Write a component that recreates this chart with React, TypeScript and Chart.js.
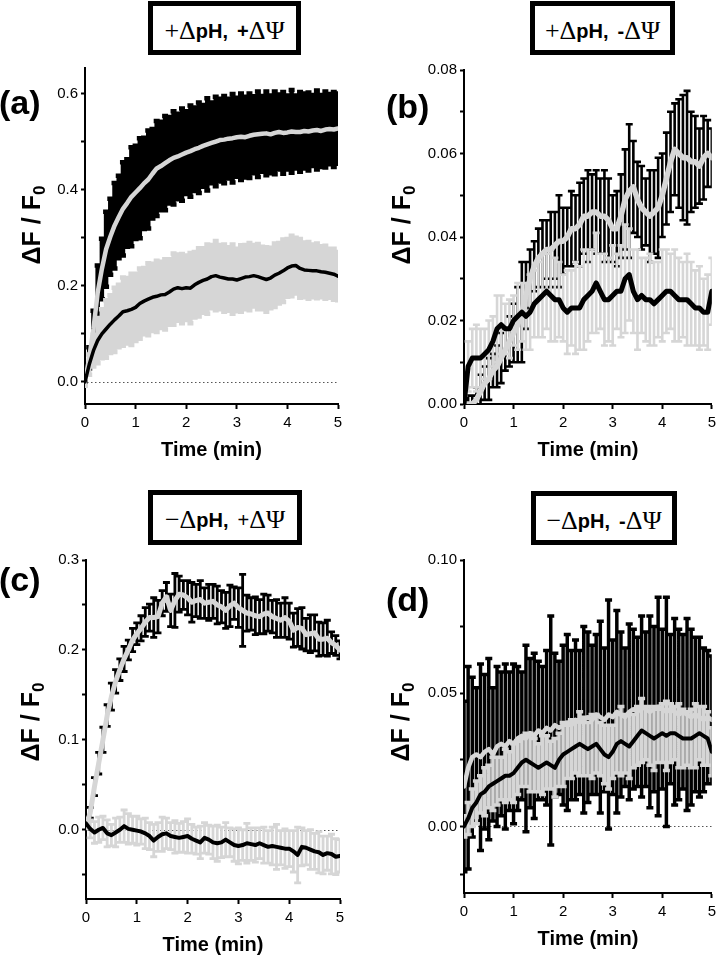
import React, { useEffect, useRef } from 'react';
import { Chart, registerables } from 'chart.js';

Chart.register(...registerables);

// ---------- data (time in seconds, values ΔF/F0) ----------
const TIME_S = [0, 5, 10, 15, 20, 25, 30, 35, 40, 45, 50, 55, 60, 65, 70, 75, 80, 85, 90, 95, 100, 105, 110, 115, 120, 125, 130, 135, 140, 145, 150, 155, 160, 165, 170, 175, 180, 185, 190, 195, 200, 205, 210, 215, 220, 225, 230, 235, 240, 245, 250, 255, 260, 265, 270, 275, 280, 285, 290, 295, 300];

// (a) +ΔpH, +ΔΨ
const A1_MEAN = [0.000, 0.050, 0.110, 0.185, 0.235, 0.276, 0.302, 0.325, 0.343, 0.360, 0.372, 0.385, 0.394, 0.403, 0.413, 0.421, 0.433, 0.444, 0.449, 0.455, 0.461, 0.466, 0.469, 0.473, 0.477, 0.480, 0.484, 0.487, 0.491, 0.494, 0.497, 0.500, 0.503, 0.504, 0.506, 0.507, 0.509, 0.510, 0.509, 0.512, 0.514, 0.515, 0.516, 0.517, 0.515, 0.518, 0.520, 0.518, 0.519, 0.521, 0.520, 0.520, 0.522, 0.521, 0.523, 0.524, 0.522, 0.525, 0.526, 0.525, 0.527];
const A1_ERR = [0.005, 0.022, 0.038, 0.057, 0.063, 0.078, 0.079, 0.089, 0.086, 0.097, 0.091, 0.103, 0.097, 0.104, 0.095, 0.102, 0.093, 0.099, 0.092, 0.098, 0.090, 0.097, 0.089, 0.096, 0.086, 0.095, 0.087, 0.094, 0.085, 0.096, 0.084, 0.093, 0.086, 0.091, 0.083, 0.092, 0.082, 0.090, 0.084, 0.088, 0.080, 0.089, 0.079, 0.087, 0.081, 0.086, 0.078, 0.085, 0.077, 0.086, 0.076, 0.083, 0.078, 0.081, 0.074, 0.082, 0.075, 0.079, 0.073, 0.078, 0.073];
const A2_MEAN = [0.000, 0.036, 0.065, 0.086, 0.100, 0.110, 0.120, 0.129, 0.137, 0.146, 0.148, 0.151, 0.155, 0.163, 0.168, 0.172, 0.176, 0.178, 0.181, 0.182, 0.187, 0.193, 0.196, 0.194, 0.196, 0.195, 0.202, 0.207, 0.211, 0.214, 0.219, 0.221, 0.218, 0.216, 0.214, 0.214, 0.212, 0.215, 0.218, 0.219, 0.221, 0.219, 0.216, 0.213, 0.216, 0.222, 0.226, 0.231, 0.237, 0.241, 0.242, 0.236, 0.233, 0.232, 0.231, 0.231, 0.229, 0.228, 0.226, 0.224, 0.220];
const A2_ERR = [0.008, 0.021, 0.033, 0.047, 0.051, 0.060, 0.060, 0.067, 0.065, 0.071, 0.068, 0.074, 0.070, 0.073, 0.069, 0.075, 0.070, 0.074, 0.069, 0.073, 0.068, 0.074, 0.069, 0.072, 0.067, 0.073, 0.068, 0.071, 0.067, 0.072, 0.066, 0.072, 0.067, 0.070, 0.066, 0.072, 0.065, 0.069, 0.067, 0.070, 0.064, 0.068, 0.065, 0.067, 0.063, 0.066, 0.063, 0.065, 0.060, 0.063, 0.058, 0.061, 0.057, 0.059, 0.055, 0.057, 0.053, 0.055, 0.051, 0.053, 0.050];

// (b) +ΔpH, -ΔΨ
const B1_MEAN = [0.000, 0.000, 0.000, 0.001, 0.003, 0.005, 0.006, 0.008, 0.009, 0.011, 0.013, 0.015, 0.017, 0.019, 0.022, 0.026, 0.030, 0.033, 0.035, 0.036, 0.037, 0.037, 0.038, 0.039, 0.039, 0.040, 0.042, 0.042, 0.043, 0.045, 0.045, 0.046, 0.046, 0.045, 0.045, 0.044, 0.042, 0.042, 0.045, 0.049, 0.051, 0.052, 0.049, 0.047, 0.046, 0.045, 0.046, 0.047, 0.050, 0.054, 0.058, 0.061, 0.060, 0.059, 0.059, 0.058, 0.058, 0.057, 0.059, 0.060, 0.059];
const B1_ERR = [0.001, 0.002, 0.002, 0.003, 0.004, 0.004, 0.005, 0.004, 0.005, 0.006, 0.005, 0.006, 0.007, 0.009, 0.012, 0.008, 0.007, 0.006, 0.007, 0.008, 0.007, 0.009, 0.008, 0.011, 0.008, 0.007, 0.009, 0.008, 0.010, 0.009, 0.011, 0.009, 0.010, 0.009, 0.011, 0.010, 0.008, 0.009, 0.010, 0.012, 0.016, 0.011, 0.009, 0.010, 0.008, 0.011, 0.010, 0.012, 0.010, 0.011, 0.012, 0.011, 0.013, 0.015, 0.016, 0.012, 0.011, 0.009, 0.010, 0.008, 0.007];
const B2_MEAN = [0.000, 0.009, 0.011, 0.011, 0.011, 0.012, 0.013, 0.015, 0.018, 0.019, 0.018, 0.018, 0.020, 0.021, 0.022, 0.021, 0.022, 0.024, 0.025, 0.026, 0.027, 0.026, 0.025, 0.025, 0.023, 0.022, 0.023, 0.023, 0.023, 0.025, 0.026, 0.027, 0.029, 0.027, 0.025, 0.025, 0.026, 0.027, 0.027, 0.030, 0.031, 0.027, 0.025, 0.026, 0.025, 0.025, 0.024, 0.025, 0.026, 0.027, 0.027, 0.026, 0.025, 0.025, 0.025, 0.024, 0.023, 0.023, 0.022, 0.022, 0.027];
const B2_ERR = [0.002, 0.006, 0.007, 0.008, 0.007, 0.006, 0.007, 0.006, 0.008, 0.007, 0.006, 0.007, 0.006, 0.008, 0.007, 0.008, 0.009, 0.008, 0.009, 0.010, 0.009, 0.011, 0.010, 0.009, 0.008, 0.010, 0.009, 0.011, 0.010, 0.012, 0.011, 0.010, 0.012, 0.009, 0.011, 0.010, 0.012, 0.009, 0.011, 0.013, 0.011, 0.010, 0.012, 0.009, 0.010, 0.011, 0.010, 0.009, 0.011, 0.010, 0.009, 0.011, 0.010, 0.009, 0.011, 0.010, 0.009, 0.010, 0.008, 0.009, 0.008];

// (c) −ΔpH, +ΔΨ
const C1_MEAN = [0.004, 0.019, 0.048, 0.074, 0.100, 0.127, 0.148, 0.165, 0.178, 0.190, 0.200, 0.211, 0.218, 0.224, 0.231, 0.236, 0.236, 0.237, 0.252, 0.259, 0.244, 0.255, 0.262, 0.261, 0.258, 0.253, 0.255, 0.256, 0.252, 0.253, 0.254, 0.250, 0.248, 0.244, 0.249, 0.252, 0.247, 0.244, 0.241, 0.240, 0.238, 0.237, 0.240, 0.241, 0.237, 0.235, 0.233, 0.236, 0.232, 0.222, 0.225, 0.224, 0.217, 0.218, 0.219, 0.212, 0.212, 0.213, 0.208, 0.205, 0.200];
const C1_ERR = [0.003, 0.006, 0.010, 0.012, 0.014, 0.012, 0.015, 0.013, 0.012, 0.014, 0.011, 0.013, 0.012, 0.014, 0.016, 0.015, 0.022, 0.018, 0.014, 0.016, 0.018, 0.030, 0.020, 0.016, 0.019, 0.022, 0.018, 0.021, 0.017, 0.020, 0.019, 0.021, 0.018, 0.020, 0.023, 0.018, 0.022, 0.040, 0.020, 0.018, 0.021, 0.019, 0.022, 0.020, 0.018, 0.021, 0.019, 0.022, 0.020, 0.019, 0.021, 0.023, 0.018, 0.021, 0.020, 0.019, 0.018, 0.020, 0.012, 0.011, 0.010];
const C2_MEAN = [0.007, 0.001, -0.003, 0.000, 0.002, -0.004, -0.006, -0.003, 0.000, 0.004, 0.001, 0.000, -0.001, -0.002, -0.004, -0.007, -0.012, -0.008, -0.005, -0.004, -0.007, -0.008, -0.009, -0.008, -0.007, -0.010, -0.012, -0.014, -0.009, -0.011, -0.014, -0.015, -0.014, -0.011, -0.014, -0.017, -0.018, -0.017, -0.015, -0.016, -0.017, -0.015, -0.017, -0.019, -0.018, -0.019, -0.020, -0.021, -0.021, -0.024, -0.028, -0.019, -0.020, -0.022, -0.024, -0.025, -0.028, -0.026, -0.027, -0.030, -0.029];
const C2_ERR = [0.006, 0.010, 0.012, 0.014, 0.013, 0.015, 0.012, 0.016, 0.014, 0.018, 0.017, 0.015, 0.016, 0.014, 0.017, 0.015, 0.018, 0.016, 0.019, 0.017, 0.015, 0.018, 0.016, 0.017, 0.019, 0.016, 0.015, 0.018, 0.017, 0.016, 0.018, 0.020, 0.017, 0.019, 0.016, 0.018, 0.020, 0.017, 0.022, 0.018, 0.019, 0.017, 0.020, 0.018, 0.021, 0.025, 0.019, 0.022, 0.020, 0.023, 0.031, 0.021, 0.019, 0.022, 0.020, 0.023, 0.021, 0.019, 0.022, 0.020, 0.018];

// (d) −ΔpH, -ΔΨ
const D1_MEAN = [0.015, 0.022, 0.026, 0.027, 0.026, 0.028, 0.029, 0.027, 0.030, 0.031, 0.030, 0.032, 0.031, 0.033, 0.034, 0.033, 0.035, 0.034, 0.036, 0.035, 0.037, 0.036, 0.038, 0.037, 0.038, 0.039, 0.038, 0.040, 0.039, 0.040, 0.041, 0.040, 0.042, 0.041, 0.040, 0.042, 0.041, 0.043, 0.042, 0.041, 0.043, 0.044, 0.043, 0.045, 0.044, 0.043, 0.044, 0.045, 0.044, 0.043, 0.044, 0.043, 0.042, 0.043, 0.042, 0.041, 0.042, 0.041, 0.040, 0.041, 0.040];
const D1_ERR = [0.032, 0.038, 0.030, 0.025, 0.035, 0.029, 0.034, 0.025, 0.030, 0.027, 0.031, 0.026, 0.030, 0.027, 0.024, 0.035, 0.028, 0.031, 0.026, 0.025, 0.029, 0.043, 0.027, 0.025, 0.030, 0.033, 0.028, 0.030, 0.027, 0.035, 0.032, 0.028, 0.030, 0.036, 0.027, 0.043, 0.029, 0.038, 0.031, 0.026, 0.033, 0.030, 0.028, 0.034, 0.029, 0.036, 0.031, 0.041, 0.030, 0.043, 0.028, 0.035, 0.032, 0.029, 0.036, 0.033, 0.029, 0.030, 0.027, 0.025, 0.024];
const D2_MEAN = [0.000, 0.003, 0.007, 0.009, 0.012, 0.013, 0.015, 0.016, 0.017, 0.018, 0.019, 0.019, 0.020, 0.022, 0.024, 0.025, 0.024, 0.023, 0.022, 0.023, 0.024, 0.023, 0.022, 0.025, 0.027, 0.028, 0.029, 0.030, 0.031, 0.030, 0.029, 0.030, 0.031, 0.029, 0.027, 0.026, 0.028, 0.031, 0.032, 0.031, 0.030, 0.032, 0.034, 0.036, 0.035, 0.034, 0.033, 0.034, 0.035, 0.034, 0.035, 0.035, 0.034, 0.033, 0.033, 0.033, 0.034, 0.035, 0.034, 0.033, 0.028];
const D2_ERR = [0.004, 0.006, 0.007, 0.008, 0.007, 0.009, 0.008, 0.010, 0.009, 0.008, 0.010, 0.009, 0.011, 0.010, 0.009, 0.010, 0.011, 0.010, 0.009, 0.011, 0.010, 0.009, 0.011, 0.010, 0.012, 0.010, 0.011, 0.010, 0.012, 0.011, 0.010, 0.012, 0.011, 0.010, 0.011, 0.012, 0.010, 0.011, 0.013, 0.011, 0.012, 0.010, 0.011, 0.012, 0.010, 0.011, 0.012, 0.010, 0.011, 0.013, 0.011, 0.010, 0.012, 0.011, 0.010, 0.011, 0.012, 0.010, 0.011, 0.010, 0.009];

// tick values
const X_TICKS = [0, 1, 2, 3, 4, 5];
const A_Y_TICKS = [0, 0.1, 0.2, 0.3, 0.4, 0.5, 0.6];
const B_Y_TICKS = [0, 0.01, 0.02, 0.03, 0.04, 0.05, 0.06, 0.07, 0.08];
const C_Y_TICKS = [-0.05, 0, 0.05, 0.1, 0.15, 0.2, 0.25, 0.3];
const D_Y_TICKS = [-0.018, 0, 0.025, 0.05, 0.075, 0.1];

const GRAY = '#d6d6d6';
const SANS = '"Liberation Sans", Arial, Helvetica, sans-serif';
const SERIF = '"Liberation Serif", "DejaVu Serif", "Times New Roman", serif';

type TitlePart = { t: string; kind: 'serif' | 'sansb' | 'sans'; ml?: number };

type PanelCfg = {
  left: number; top: number; w: number; h: number;
  pad: { left: number; right: number; top: number; bottom: number };
  yMin: number; yMax: number; yTicks: number[]; yMajor: number; yDigits: number;
  m1: number[]; e1: number[]; m2: number[]; e2: number[];
  grayW: number; blackW: number; ebW: number; cap: number; zero: boolean;
  label: string; labelPos: { left: number; top: number };
  yTitlePos: { x: number; y: number };
  box: { left: number; top: number; w: number; h: number };
  title: TitlePart[];
};

const PANELS: PanelCfg[] = [
  {
    left: 0, top: 0, w: 360, h: 480,
    pad: { left: 35, right: 22, top: 68, bottom: 18 },
    yMin: -0.046, yMax: 0.653, yTicks: A_Y_TICKS, yMajor: 0.2, yDigits: 1,
    m1: A1_MEAN, e1: A1_ERR, m2: A2_MEAN, e2: A2_ERR,
    grayW: 4.5, blackW: 3.5, ebW: 4.5, cap: 6, zero: true,
    label: '(a)', labelPos: { left: -1, top: 85 },
    yTitlePos: { x: 33, y: 225 },
    box: { left: 148, top: 1, w: 153, h: 54 },
    title: [{ t: '+Δ', kind: 'serif' }, { t: 'pH,', kind: 'sansb' }, { t: '+', kind: 'sansb', ml: 9 }, { t: 'ΔΨ', kind: 'serif' }],
  },
  {
    left: 360, top: 0, w: 361, h: 480,
    pad: { left: 54, right: 5, top: 70, bottom: 18 },
    yMin: 0, yMax: 0.08, yTicks: B_Y_TICKS, yMajor: 0.02, yDigits: 2,
    m1: B1_MEAN, e1: B1_ERR, m2: B2_MEAN, e2: B2_ERR,
    grayW: 5.5, blackW: 5, ebW: 2.6, cap: 7, zero: false,
    label: '(b)', labelPos: { left: 386, top: 89 },
    yTitlePos: { x: 403, y: 225 },
    box: { left: 530, top: 1, w: 145, h: 54 },
    title: [{ t: '+Δ', kind: 'serif' }, { t: 'pH,', kind: 'sansb' }, { t: '-', kind: 'sansb', ml: 9 }, { t: 'ΔΨ', kind: 'serif' }],
  },
  {
    left: 0, top: 480, w: 360, h: 478,
    pad: { left: 36, right: 20, top: 80, bottom: 1 },
    yMin: -0.077, yMax: 0.3, yTicks: C_Y_TICKS, yMajor: 0.1, yDigits: 1,
    m1: C1_MEAN, e1: C1_ERR, m2: C2_MEAN, e2: C2_ERR,
    grayW: 5, blackW: 4, ebW: 2.8, cap: 7, zero: true,
    label: '(c)', labelPos: { left: -1, top: 562 },
    yTitlePos: { x: 32, y: 722 },
    box: { left: 148, top: 490, w: 154, h: 55 },
    title: [{ t: '−Δ', kind: 'serif' }, { t: 'pH,', kind: 'sansb' }, { t: '+', kind: 'sans', ml: 9 }, { t: 'ΔΨ', kind: 'serif' }],
  },
  {
    left: 360, top: 480, w: 361, h: 478,
    pad: { left: 54, right: 5, top: 80, bottom: 7 },
    yMin: -0.025, yMax: 0.1, yTicks: D_Y_TICKS, yMajor: 0.05, yDigits: 2,
    m1: D1_MEAN, e1: D1_ERR, m2: D2_MEAN, e2: D2_ERR,
    grayW: 4.5, blackW: 4, ebW: 3.5, cap: 7, zero: true,
    label: '(d)', labelPos: { left: 386, top: 582 },
    yTitlePos: { x: 402, y: 722 },
    box: { left: 531, top: 491, w: 146, h: 54 },
    title: [{ t: '−Δ', kind: 'serif' }, { t: 'pH,', kind: 'sansb' }, { t: '-', kind: 'sansb', ml: 9 }, { t: 'ΔΨ', kind: 'serif' }],
  },
];

const errorBarPlugin = {
  id: 'errorBars',
  beforeDatasetDraw(chart: any, args: any) {
    const ds = chart.data.datasets[args.index];
    const errs: number[] | undefined = ds.errors;
    if (!errs) return;
    const { ctx, chartArea, scales } = chart;
    ctx.save();
    ctx.beginPath();
    ctx.rect(chartArea.left, chartArea.top, chartArea.right - chartArea.left, chartArea.bottom - chartArea.top);
    ctx.clip();
    ctx.strokeStyle = ds.errorColor;
    ctx.lineWidth = ds.errorWidth;
    const half = ds.capWidth / 2;
    ctx.beginPath();
    ds.data.forEach((p: { x: number; y: number }, i: number) => {
      const x = scales.x.getPixelForValue(p.x);
      const y1 = scales.y.getPixelForValue(p.y + errs[i]);
      const y2 = scales.y.getPixelForValue(p.y - errs[i]);
      ctx.moveTo(x, y1); ctx.lineTo(x, y2);
      ctx.moveTo(x - half, y1); ctx.lineTo(x + half, y1);
      ctx.moveTo(x - half, y2); ctx.lineTo(x + half, y2);
    });
    ctx.stroke();
    ctx.restore();
  },
};

const zeroLinePlugin = {
  id: 'zeroLine',
  beforeDatasetsDraw(chart: any, _args: any, opts: any) {
    if (!opts || !opts.show) return;
    const { ctx, chartArea, scales } = chart;
    const y = Math.round(scales.y.getPixelForValue(0)) + 0.5;
    ctx.save();
    ctx.strokeStyle = '#555';
    ctx.lineWidth = 1;
    ctx.setLineDash([1.5, 2.5]);
    ctx.beginPath();
    ctx.moveTo(chartArea.left + 2, y);
    ctx.lineTo(chartArea.right, y);
    ctx.stroke();
    ctx.restore();
  },
};

function Panel({ cfg }: { cfg: PanelCfg }) {
  const ref = useRef<HTMLCanvasElement>(null);
  useEffect(() => {
    const pts = (m: number[]) => m.map((v, i) => ({ x: TIME_S[i] / 60, y: v }));
    const isMajor = (v: number) => Math.abs(v / cfg.yMajor - Math.round(v / cfg.yMajor)) < 1e-6;
    const chart = new Chart(ref.current as HTMLCanvasElement, {
      type: 'line',
      data: {
        datasets: [
          {
            // black error bars + light grey mean line (drawn first / underneath)
            data: pts(cfg.m1), errors: cfg.e1, errorColor: '#000', errorWidth: cfg.ebW, capWidth: cfg.cap,
            borderColor: GRAY, borderWidth: cfg.grayW, pointRadius: 0, tension: 0, order: 2,
            borderJoinStyle: 'round', borderCapStyle: 'round',
          } as any,
          {
            // light grey error bars + black mean line (drawn on top)
            data: pts(cfg.m2), errors: cfg.e2, errorColor: GRAY, errorWidth: cfg.ebW, capWidth: cfg.cap,
            borderColor: '#000', borderWidth: cfg.blackW, pointRadius: 0, tension: 0, order: 1,
            borderJoinStyle: 'round', borderCapStyle: 'round',
          } as any,
        ],
      },
      options: {
        animation: false,
        responsive: false,
        maintainAspectRatio: false,
        devicePixelRatio: 1,
        events: [],
        layout: { padding: cfg.pad },
        plugins: {
          legend: { display: false },
          tooltip: { enabled: false },
          title: { display: false },
          zeroLine: { show: cfg.zero },
        } as any,
        scales: {
          x: {
            type: 'linear', min: 0, max: 5,
            afterFit: (s: any) => { s.height = 58; },
            afterBuildTicks: (s: any) => { s.ticks = X_TICKS.map((v) => ({ value: v })); },
            ticks: { font: { family: SANS, size: 15 }, color: '#000', padding: 5, maxRotation: 0, autoSkip: false },
            grid: { drawOnChartArea: false, drawTicks: true, tickLength: 5, tickWidth: 2, tickColor: '#000' },
            border: { display: true, color: '#000', width: 2 },
            title: {
              display: true, text: 'Time (min)', color: '#000',
              font: { family: SANS, size: 20, weight: 'bold' }, padding: { top: 0, bottom: 0 },
            },
          },
          y: {
            type: 'linear', min: cfg.yMin, max: cfg.yMax,
            afterFit: (s: any) => { s.width = 50; },
            afterBuildTicks: (s: any) => { s.ticks = cfg.yTicks.map((v) => ({ value: v })); },
            ticks: {
              font: { family: SANS, size: 15 }, color: '#000', padding: 3, autoSkip: false,
              callback: (v: any) => (isMajor(Number(v)) ? Number(v).toFixed(cfg.yDigits) : ''),
            },
            grid: { drawOnChartArea: false, drawTicks: true, tickLength: 4, tickWidth: 2, tickColor: '#000' },
            border: { display: true, color: '#000', width: 2 },
          },
        } as any,
      },
      plugins: [errorBarPlugin, zeroLinePlugin],
    });
    return () => chart.destroy();
  }, []);
  return (
    <canvas
      ref={ref}
      width={cfg.w}
      height={cfg.h}
      style={{ position: 'absolute', left: cfg.left, top: cfg.top, width: cfg.w, height: cfg.h, display: 'block' }}
    />
  );
}

function TitleBox({ cfg }: { cfg: PanelCfg }) {
  return (
    <div
      style={{
        position: 'absolute', left: cfg.box.left, top: cfg.box.top, width: cfg.box.w, height: cfg.box.h,
        border: '5px solid #000', boxSizing: 'border-box', background: '#fff',
        display: 'flex', alignItems: 'center', justifyContent: 'center', paddingTop: 5, whiteSpace: 'nowrap',
      }}
    >
      {cfg.title.map((p, i) => (
        <span
          key={i}
          style={{
            fontFamily: p.kind === 'serif' ? SERIF : SANS,
            fontSize: p.kind === 'serif' ? 26 : 20,
            fontWeight: p.kind === 'sansb' ? 'bold' : 'normal',
            marginLeft: p.ml || 0,
            lineHeight: '26px',
          }}
        >
          {p.t}
        </span>
      ))}
    </div>
  );
}

export default function App() {
  return (
    <div style={{ position: 'fixed', left: 0, top: 0, width: 721, height: 958, background: '#fff', overflow: 'hidden' }}>
      {PANELS.map((cfg, i) => (
        <React.Fragment key={i}>
          <Panel cfg={cfg} />
          <TitleBox cfg={cfg} />
          <div
            style={{
              position: 'absolute', left: cfg.labelPos.left, top: cfg.labelPos.top,
              fontFamily: SANS, fontWeight: 'bold', fontSize: 34, lineHeight: 1, color: '#000',
            }}
          >
            {cfg.label}
          </div>
          <div
            style={{
              position: 'absolute', left: cfg.yTitlePos.x, top: cfg.yTitlePos.y,
              transform: 'translate(-50%, -50%) rotate(-90deg)', whiteSpace: 'nowrap',
              fontFamily: SANS, fontWeight: 'bold', fontSize: 25, lineHeight: 1, color: '#000',
            }}
          >
            ΔF / F<sub style={{ fontSize: 17, verticalAlign: -5 }}>0</sub>
          </div>
        </React.Fragment>
      ))}
    </div>
  );
}
